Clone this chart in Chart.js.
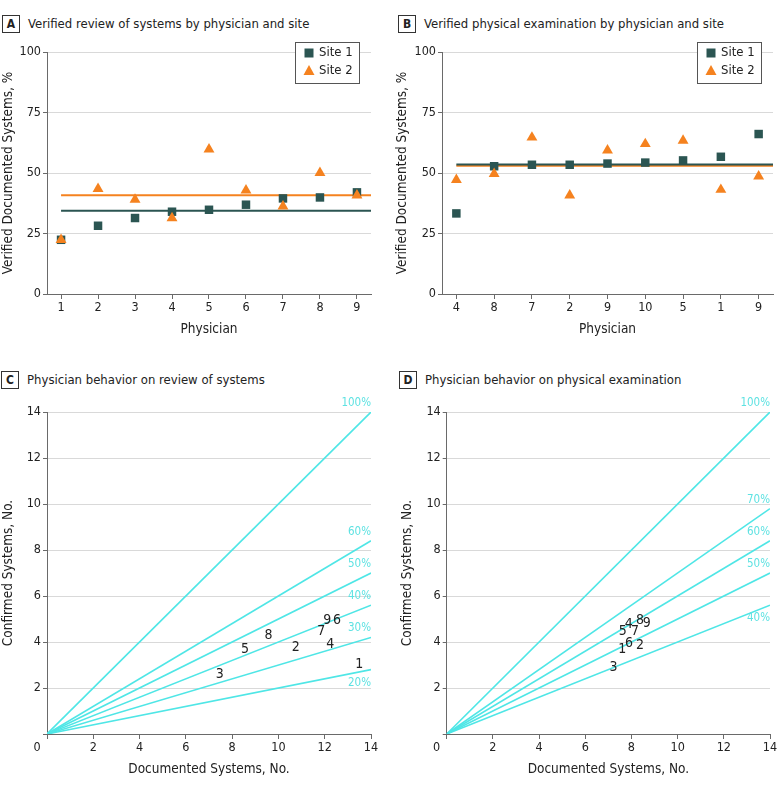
<!DOCTYPE html>
<html><head><meta charset="utf-8">
<script src="https://cdn.jsdelivr.net/npm/chart.js@4.4.0/dist/chart.umd.min.js"></script>
<style>
body{margin:0;background:#fff;width:783px;height:788px;position:relative;overflow:hidden;font-family:"DejaVu Sans Condensed","DejaVu Sans",sans-serif;}
.cv{position:absolute;}
.ttl{position:absolute;font-size:13px;color:#222;white-space:nowrap;line-height:18px;}
.ttl b{display:inline-block;box-sizing:border-box;border:1px solid #333;width:18px;height:18px;line-height:16px;text-align:center;font-size:12px;margin-right:8px;vertical-align:top;}
</style></head><body>
<div class="ttl" style="left:2px;top:15px"><b>A</b>Verified review of systems by physician and site</div>
<div class="ttl" style="left:398px;top:15px"><b>B</b>Verified physical examination by physician and site</div>
<div class="ttl" style="left:1px;top:371px"><b>C</b>Physician behavior on review of systems</div>
<div class="ttl" style="left:399px;top:371px"><b>D</b>Physician behavior on physical examination</div>
<div class="cv" style="left:0;top:36px;width:390px;height:310px"><canvas id="cA"></canvas></div>
<div class="cv" style="left:390px;top:36px;width:393px;height:310px"><canvas id="cB"></canvas></div>
<div class="cv" style="left:0;top:392px;width:390px;height:396px"><canvas id="cC"></canvas></div>
<div class="cv" style="left:390px;top:392px;width:393px;height:396px"><canvas id="cD"></canvas></div>
<script>
// ---- data ----
const physA = ['1','2','3','4','5','6','7','8','9'];
const site1A = [22.4,28.2,31.4,34.0,34.8,36.9,39.5,39.9,42.0];
const site2A = [22.4,43.5,39.0,31.4,59.8,42.8,36.2,50.1,40.8];
const meanSite1A = 34.4;
const meanSite2A = 40.8;

const physB = ['4','8','7','2','9','10','5','1','9'];
const site1B = [33.3,52.8,53.4,53.4,53.9,54.3,55.2,56.7,66.1];
const site2B = [47.2,49.7,64.7,40.8,59.4,62.0,63.4,43.1,48.6];
const meanSite1B = 53.5;
const meanSite2B = 53.0;

const pctTicks = [0,25,50,75,100];
const countTicks = [0,2,4,6,8,10,12,14];

const pctC = [100,60,50,40,30,20];
const physC = ['1','3','5','8','2','7','4','9','6'];
const docC  = [13.49,7.47,8.56,9.57,10.75,11.85,12.24,12.11,12.53];
const confC = [3.04,2.58,3.70,4.28,3.78,4.46,3.91,4.94,4.94];

const pctD = [100,70,60,50,40];
const physD = ['5','4','7','8','9','1','6','2','3'];
const docD  = [7.62,7.88,8.15,8.37,8.66,7.60,7.89,8.37,7.22];
const confD = [4.46,4.75,4.46,4.94,4.83,3.70,3.96,3.84,2.91];

// ---- styles ----
const TEAL = '#2b5552';
const ORANGE = '#f5821f';
const CYAN = '#4fe6e6';
const CYAN_TXT = '#5ee2e2';
const AXIS = '#6a6a6a';
const GRID = '#d9d9d9';
const TXT = '#222';
const FONT = '"DejaVu Sans Condensed", "DejaVu Sans", sans-serif';
Chart.defaults.font.family = FONT;
Chart.defaults.font.size = 13;
Chart.defaults.color = TXT;
Chart.defaults.animation = false;
Chart.defaults.responsive = true;
Chart.defaults.maintainAspectRatio = false;
const TICKSZ = 12.5, TITLESZ = 13.5;

const legendBoxPlugin = {
  id: 'legendBox',
  afterDraw(chart) {
    const o = chart.options.plugins.legendBox;
    if (!o) return;
    const ctx = chart.ctx, ca = chart.chartArea;
    const w = 64, h = 41;
    const x0 = ca.right - 12 - w, y0 = ca.top - 10;
    ctx.save();
    ctx.fillStyle = '#fff';
    ctx.fillRect(x0, y0, w, h);
    ctx.strokeStyle = '#555'; ctx.lineWidth = 1;
    ctx.strokeRect(x0 + 0.5, y0 + 0.5, w, h);
    const items = chart.data.datasets.filter(d => d.inLegend);
    items.forEach((d, i) => {
      const cy = y0 + 11 + i * 18, cx = x0 + 14;
      ctx.fillStyle = d.backgroundColor;
      ctx.beginPath();
      if (d.pointStyle === 'rect') { ctx.rect(cx - 4.5, cy - 4.5, 9, 9); }
      else { ctx.moveTo(cx, cy - 6); ctx.lineTo(cx + 5.5, cy + 4); ctx.lineTo(cx - 5.5, cy + 4); ctx.closePath(); }
      ctx.fill();
      ctx.fillStyle = TXT;
      ctx.font = '13px ' + FONT;
      ctx.textAlign = 'left'; ctx.textBaseline = 'middle';
      ctx.fillText(d.label, x0 + 24, cy);
    });
    ctx.restore();
  }
};

const fanLabelPlugin = {
  id: 'fanLabels',
  afterDatasetsDraw(chart) {
    const ctx = chart.ctx;
    ctx.save();
    chart.data.datasets.forEach((d, i) => {
      const meta = chart.getDatasetMeta(i);
      if (d.pctLabel) {
        const end = meta.data[1];
        ctx.fillStyle = CYAN_TXT;
        ctx.font = '11.5px ' + FONT;
        ctx.textAlign = 'right'; ctx.textBaseline = 'middle';
        ctx.fillText(d.pctLabel, chart.chartArea.right, end.y + (d.below ? 13 : -9));
      }
      if (d.textLabels) {
        ctx.fillStyle = TXT;
        ctx.font = '14px ' + FONT;
        ctx.textAlign = 'center'; ctx.textBaseline = 'middle';
        meta.data.forEach((pt, j) => ctx.fillText(d.textLabels[j], pt.x, pt.y));
      }
    });
    ctx.fillStyle = TXT; ctx.font = TICKSZ + 'px ' + FONT;
    ctx.textAlign = 'center'; ctx.textBaseline = 'middle';
    ctx.fillText('0', chart.chartArea.left - 10, chart.chartArea.bottom + 14);
    ctx.restore();
  }
};

function scatterPanel(id, cats, s1, s2, m1, m2, yWidth, rightPad, yTitlePad) {
  const n = cats.length;
  const xmin = 0.62, xmax = n + 0.38;
  return new Chart(document.getElementById(id), {
    type: 'scatter',
    plugins: [legendBoxPlugin],
    data: { datasets: [
      { type: 'line', label: 'Site 2 mean', data: [{x: 1, y: m2}, {x: xmax, y: m2}], borderColor: ORANGE, borderWidth: 2, pointRadius: 0, order: 4 },
      { type: 'line', label: 'Site 1 mean', data: [{x: 1, y: m1}, {x: xmax, y: m1}], borderColor: TEAL, borderWidth: 2, pointRadius: 0, order: 3 },
      { label: 'Site 1', inLegend: true, data: s1.map((v, i) => ({x: i + 1, y: v})), pointStyle: 'rect', pointRadius: 6, backgroundColor: TEAL, borderColor: TEAL, borderWidth: 0, order: 2 },
      { label: 'Site 2', inLegend: true, data: s2.map((v, i) => ({x: i + 1, y: v})), pointStyle: 'triangle', pointRadius: 6.3, backgroundColor: ORANGE, borderColor: ORANGE, borderWidth: 0, order: 1 }
    ]},
    options: {
      layout: { padding: { top: 16, right: rightPad, left: 0, bottom: 0 } },
      plugins: { legend: { display: false }, tooltip: { enabled: false }, legendBox: {} },
      scales: {
        x: { type: 'linear', min: xmin, max: xmax,
             afterBuildTicks: s => { s.ticks = cats.map((c, i) => ({ value: i + 1 })); },
             ticks: { callback: (v, i) => cats[i], autoSkip: false, maxRotation: 0, padding: 1, font: { size: TICKSZ } },
             grid: { drawOnChartArea: false, tickLength: 5, tickColor: AXIS },
             border: { color: AXIS },
             title: { display: true, text: 'Physician', font: { size: TITLESZ }, padding: { top: 0, bottom: 8 } },
             afterFit: s => { s.height = 52; } },
        y: { min: 0, max: 100,
             afterBuildTicks: s => { s.ticks = pctTicks.map(v => ({ value: v })); },
             ticks: { padding: 2, font: { size: TICKSZ } },
             grid: { color: GRID, tickColor: AXIS, tickLength: 4 },
             border: { color: AXIS },
             title: { display: true, text: 'Verified Documented Systems, %', font: { size: TITLESZ }, padding: { top: yTitlePad, bottom: 0 } },
             afterFit: s => { s.width = yWidth; } }
      }
    }
  });
}

function fanPanel(id, pcts, labels, docs, confs, yWidth, rightPad, yTitlePad) {
  const ds = pcts.map((p, i) => ({ type: 'line', label: p + '%', pctLabel: p + '%', below: i === pcts.length - 1,
    data: [{x: 0, y: 0}, {x: 14, y: 14 * p / 100}], borderColor: CYAN, borderWidth: 1.6, pointRadius: 0 }));
  ds.push({ label: 'Physicians', textLabels: labels, data: docs.map((d, i) => ({x: d, y: confs[i]})), pointRadius: 0, showLine: false });
  return new Chart(document.getElementById(id), {
    type: 'scatter',
    plugins: [fanLabelPlugin],
    data: { datasets: ds },
    options: {
      layout: { padding: { top: 20, right: rightPad, left: 0, bottom: 0 } },
      plugins: { legend: { display: false }, tooltip: { enabled: false } },
      scales: {
        x: { type: 'linear', min: 0, max: 14,
             afterBuildTicks: s => { s.ticks = countTicks.map(v => ({ value: v })); },
             ticks: { callback: v => v === 0 ? '' : v, autoSkip: false, maxRotation: 0, padding: 1, font: { size: TICKSZ } },
             grid: { drawOnChartArea: false, tickLength: 5, tickColor: AXIS },
             border: { color: AXIS },
             title: { display: true, text: 'Documented Systems, No.', font: { size: TITLESZ }, padding: { top: 0, bottom: 10 } },
             afterFit: s => { s.height = 54; } },
        y: { min: 0, max: 14,
             afterBuildTicks: s => { s.ticks = countTicks.map(v => ({ value: v })); },
             ticks: { callback: v => v === 0 ? '' : v, padding: 2, font: { size: TICKSZ } },
             grid: { color: GRID, tickColor: AXIS, tickLength: 4 },
             border: { color: AXIS },
             title: { display: true, text: 'Confirmed Systems, No.', font: { size: TITLESZ }, padding: { top: yTitlePad, bottom: 0 } },
             afterFit: s => { s.width = yWidth; } }
      }
    }
  });
}

scatterPanel('cA', physA, site1A, site2A, meanSite1A, meanSite2A, 47, 19, 0);
scatterPanel('cB', physB, site1B, site2B, meanSite1B, meanSite2B, 52, 10, 4.5);
fanPanel('cC', pctC, physC, docC, confC, 47, 19, 0);
fanPanel('cD', pctD, physD, docD, confD, 56.7, 13, 9.5);
</script>
</body></html>
